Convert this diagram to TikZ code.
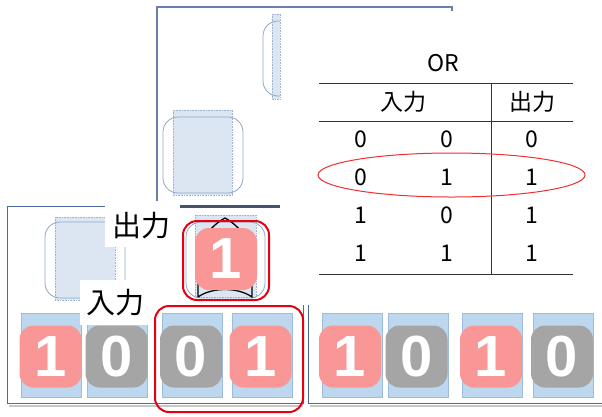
\documentclass[tikz,border=0pt]{standalone}
\usepackage{fontspec}
\setmainfont{Noto Sans CJK JP}
\newfontfamily\digitfont{Liberation Sans}
\definecolor{framec}{HTML}{6A80AA}
\definecolor{framed}{HTML}{4A6AA5}
\definecolor{lightb}{HTML}{DCE6F2}
\definecolor{dotc}{HTML}{9EB5D0}
\definecolor{outc}{HTML}{8EA6C8}
\definecolor{bitb}{HTML}{BDD7EE}
\definecolor{bitd}{HTML}{9DBCDD}
\definecolor{pinkc}{HTML}{F99797}
\definecolor{greyc}{HTML}{A5A5A5}
\definecolor{redc}{HTML}{E50012}
\definecolor{ellc}{HTML}{F03030}
\definecolor{darkl}{HTML}{44546A}
\begin{document}
\begin{tikzpicture}[x=1pt,y=-1pt,
  frameline/.style={draw=framec, line width=1.5pt},
  framethin/.style={draw=framed, line width=1pt},
  shadowline/.style={draw=black!22, line width=2pt},
  lightshape/.style={fill=lightb, draw=dotc, densely dotted, line width=0.6pt},
  outlineshape/.style={draw=outc, line width=0.8pt, rounded corners=15pt},
  bitbg/.style={fill=bitb, draw=bitd, line width=0.5pt, minimum width=60pt, minimum height=84pt, inner sep=0pt},
  badge/.style={rounded corners=14pt, minimum width=62pt, minimum height=62pt, text=white, inner sep=0pt,
    font=\digitfont\bfseries\fontsize{58}{58}\selectfont},
  pinkb/.style={badge, fill=pinkc},
  greyb/.style={badge, fill=greyc},
  redbox/.style={draw=redc, line width=2pt, rounded corners=14pt, inner sep=0pt},
  labelbox/.style={fill=white, inner sep=0pt, font=\fontsize{29}{29}\selectfont},
  tbl/.style={inner sep=0pt, font=\fontsize{23}{23}\selectfont},
  tline/.style={draw=black!80, line width=1pt},
  gate/.style={draw=black, line width=1.3pt}
]
\useasboundingbox (0,0) rectangle (602,416);
\fill[white] (0,0) rectangle (602,416);

% top frame
\draw[frameline] (157,201) -- (157,7) -- (452,7) -- (452,11);
% top right clipped shape
\fill[lightshape] (272,14) rectangle (280,99);
\begin{scope}
  \clip (250,0) rectangle (280,120);
  \draw[outlineshape] (263,21) rectangle (300,96);
\end{scope}
% middle shape
\fill[lightshape] (173,110) rectangle (232,195);
\draw[outlineshape] (163,117) rectangle (243,193);
% dark line
\coordinate (dl1) at (180,206);
\coordinate (dl2) at (280,206);
\draw[draw=darkl, line width=3pt] (dl1) -- (dl2);

% bottom frames
\draw[shadowline] (9,405.5) -- (303,405.5);
\draw[shadowline] (310,405.5) -- (602,405.5);
\draw[framethin] (105,206) -- (7,206) -- (7,403) -- (303,403) -- (303,305);
\draw[framethin] (308,305) -- (308,403) -- (602,403);

% left shape
\fill[lightshape] (55,217) rectangle (115,300);
\draw[outlineshape] (45,222) rectangle (125,298);
% output shape
\fill[lightshape] (195,215) rectangle (256,297);
\draw[outlineshape] (186,222) rectangle (265,298);

% bit backgrounds
\node[bitbg] (r1) at (51.5,355) {};
\node[bitbg] (r2) at (117,355) {};
\node[bitbg] (r3) at (192,355) {};
\node[bitbg] (r4) at (262,355) {};
\node[bitbg] (r5) at (352,355) {};
\node[bitbg] (r6) at (418,355) {};
\node[bitbg] (r7) at (492,355) {};
\node[bitbg] (r8) at (563,355) {};

% labels
\node[labelbox, minimum width=73pt, minimum height=42pt] (lout) at (141.5,226) {出力};
\node[labelbox, minimum width=70pt, minimum height=45pt] (lin) at (115,302.5) {入力};

% OR gate
\draw[gate] (198,297) -- (198,262) .. controls (198,240) and (212,225) .. (225,218)
  .. controls (238,225) and (252,240) .. (252,262) -- (252,297)
  .. controls (238,287) and (212,287) .. (198,297);

% badges
\node[pinkb] (b1) at (50.5,356.5) {1};
\node[greyb] (b2) at (116.5,356.5) {0};
\node[greyb] (b3) at (191,356.5) {0};
\node[pinkb] (b4) at (260.5,356.5) {1};
\node[pinkb] (b5) at (350,356.5) {1};
\node[greyb] (b6) at (416.5,356.5) {0};
\node[pinkb] (b7) at (491,356.5) {1};
\node[greyb] (b8) at (562,356.5) {0};
\node[pinkb] (bo) at (226,259) {1};

% red boxes
\node[redbox, minimum width=86pt, minimum height=79pt] (selout) at (226,260.5) {};
\node[redbox, minimum width=148pt, minimum height=106pt] (selin) at (229,359) {};

% table
\node[tbl] (title) at (443,63.5) {OR};
\coordinate (h1l) at (319,83);  \coordinate (h1r) at (573,83);
\coordinate (h2l) at (319,121); \coordinate (h2r) at (573,121);
\coordinate (h3l) at (319,274); \coordinate (h3r) at (573,274);
\coordinate (vt) at (491,83);   \coordinate (vb) at (491,274);
\draw[tline] (h1l) -- (h1r);
\draw[tline] (h2l) -- (h2r);
\draw[tline] (h3l) -- (h3r);
\draw[tline] (vt) -- (vb);
\node[tbl] (hin) at (403,101.5) {入力};
\node[tbl] (hout) at (532,101.5) {出力};
\node[tbl] (c11) at (361,139) {0}; \node[tbl] (c12) at (447,139) {0}; \node[tbl] (c13) at (532,139) {0};
\node[tbl] (c21) at (361,177) {0}; \node[tbl] (c22) at (447,177) {1}; \node[tbl] (c23) at (532,177) {1};
\node[tbl] (c31) at (361,215) {1}; \node[tbl] (c32) at (447,215) {0}; \node[tbl] (c33) at (532,215) {1};
\node[tbl] (c41) at (361,253) {1}; \node[tbl] (c42) at (447,253) {1}; \node[tbl] (c43) at (532,253) {1};
\draw[draw=ellc, line width=1pt] (451.5,175) ellipse [x radius=133.5pt, y radius=22pt];
\end{tikzpicture}
\end{document}
